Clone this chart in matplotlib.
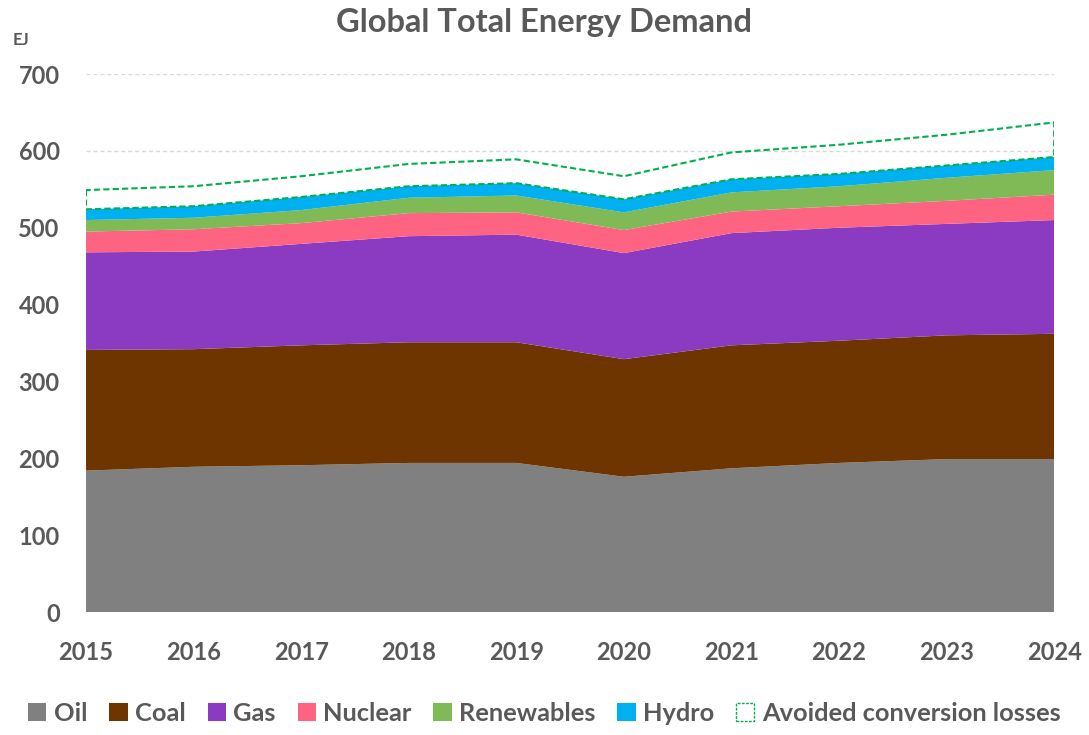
import matplotlib
matplotlib.use("Agg")
import matplotlib.pyplot as plt
from matplotlib.patches import Patch

plt.rcParams['font.family'] = ['Lato', 'DejaVu Sans']
plt.rcParams['font.weight'] = 'bold'

years = [2015, 2016, 2017, 2018, 2019, 2020, 2021, 2022, 2023, 2024]
oil = [184, 189, 191, 194, 194, 176, 187, 194, 199, 199]
coal = [157, 153, 156, 157, 157, 153, 160, 159, 161, 163]
gas = [127, 127, 132, 138, 140, 138, 146, 147, 145, 148]
nuclear = [27, 29, 27, 30, 29, 30, 28, 28, 30, 33]
renewables = [15, 15, 17, 20, 22, 23, 25, 26, 30, 32]
hydro = [14, 15, 17, 15, 16, 17, 17, 16, 16, 17]
avoided = [25, 26, 27, 29, 31, 30, 35, 38, 40, 45]

labels = ['Oil', 'Coal', 'Gas', 'Nuclear', 'Renewables', 'Hydro']
colors = ['#808080', '#6E3500', '#8A3BC1', '#FF6382', '#7FBA56', '#00B0F0']
green = '#00B050'
txt = '#595959'

fig = plt.figure(figsize=(10.89, 7.35), dpi=100)
ax = fig.add_axes([0.079, 0.1673, 0.889, 0.732])

# gridlines behind the areas
ax.set_axisbelow(True)
ax.grid(axis='y', color='#D9D9D9', linestyle=(0, (3, 2)), linewidth=1)

ax.stackplot(years, oil, coal, gas, nuclear, renewables, hydro,
             colors=colors, labels=labels, linewidth=0)

base = [o + c + g + n + r + h for o, c, g, n, r, h in
        zip(oil, coal, gas, nuclear, renewables, hydro)]
top = [b + a for b, a in zip(base, avoided)]
ax.fill_between(years, base, top, facecolor='none', edgecolor=green,
                linestyle=(0, (3, 1.5)), linewidth=1.5)

ax.set_xlim(2015, 2024)
ax.set_ylim(0, 700)
ax.set_xticks(years)
ax.set_yticks(range(0, 701, 100))
for s in ax.spines.values():
    s.set_visible(False)
ax.tick_params(length=0, labelsize=17, labelcolor=txt)
ax.tick_params(axis='y', pad=19)
ax.tick_params(axis='x', pad=21)
for lab in ax.get_xticklabels() + ax.get_yticklabels():
    lab.set_fontweight('bold')

fig.text(0.5, 0.970, 'Global Total Energy Demand', ha='center', va='center',
         fontsize=23.5, fontweight='bold', color=txt)
fig.text(0.012, 0.946, 'EJ', ha='left', va='center', fontsize=12,
         fontweight='bold', color=txt)

handles = [Patch(facecolor=c, edgecolor='none') for c in colors]
handles.append(Patch(facecolor='white', edgecolor=green, linestyle=(0, (2, 1)), linewidth=1))
leg = fig.legend(handles, labels + ['Avoided conversion losses'], loc='center',
                 bbox_to_anchor=(0.5, 0.029), ncol=7, frameon=False,
                 fontsize=18.3, handlelength=0.72, handleheight=0.72,
                 handletextpad=0.3, columnspacing=0.85)
for t in leg.get_texts():
    t.set_color(txt)
    t.set_fontweight('bold')

fig.savefig('out.png', dpi=100)
